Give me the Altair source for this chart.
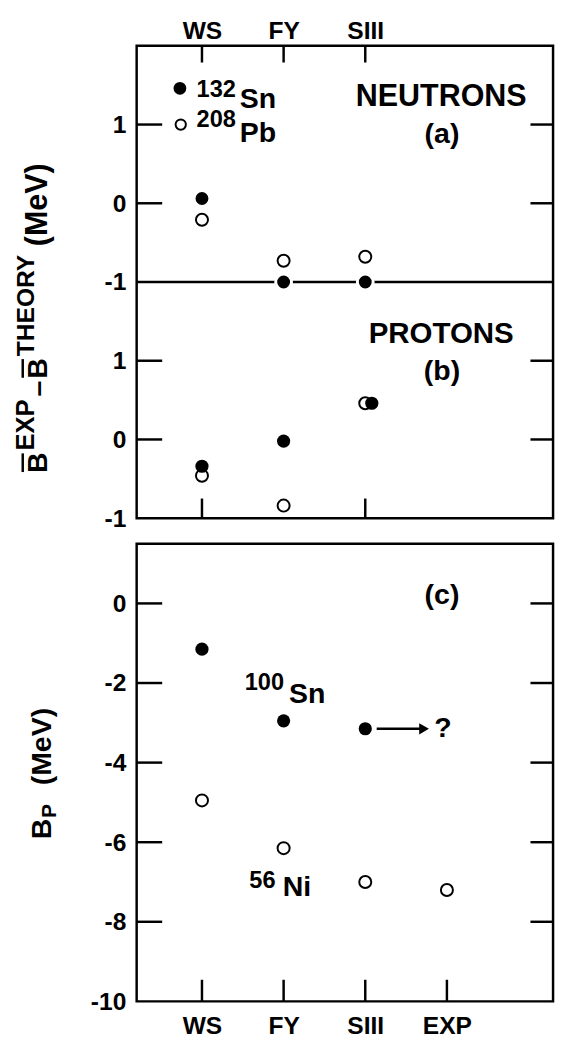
import json
import altair as alt
import pandas as pd

# ---------------- data ----------------
categories = ["WS", "FY", "SIII", "EXP"]

# (a) NEUTRONS  (WS, FY, SIII)
neutron_sn132 = [0.06, -1.00, -1.00]
neutron_pb208 = [-0.21, -0.73, -0.68]
# (b) PROTONS  (WS, FY, SIII)
proton_sn132 = [-0.34, -0.02, 0.46]
proton_pb208 = [-0.46, -0.84, 0.46]
proton_sn132_nudge = [0.0, 0.0, 0.08]   # SIII filled dot drawn just right of the open one
# (c) B_P  (WS, FY, SIII) and (WS, FY, SIII, EXP)
bp_sn100 = [-1.15, -2.95, -3.15]
bp_ni56 = [-4.95, -6.15, -7.00, -7.20]

ab_tick_values = [-1, 0, 1]
c_tick_values = [0, -2, -4, -6, -8, -10]

FONT = "Liberation Sans"
FW = "bold"
W = 424
H_AB = 481
H_C = 466
X_DOM = [0.2, 5.3]
A_SHIFT = 4   # panel (a) value v is drawn at u = v + 4
B_SHIFT = 1   # panel (b) value v is drawn at u = v + 1

xpos = {c: i + 1 for i, c in enumerate(categories)}
cat_js = json.dumps(categories)

# ---------------- shared encodings ----------------
x_scale = alt.Scale(domain=X_DOM, nice=False, zero=False)
u_scale = alt.Scale(domain=[0, 6], nice=False, zero=False)
c_scale = alt.Scale(domain=[-10, 1.5], nice=False, zero=False)

ab_u_vals = [v + B_SHIFT for v in ab_tick_values] + [v + A_SHIFT for v in ab_tick_values]

lab = dict(ticks=False, domain=False, grid=False, title=None, labelFontSize=25, labelFont=FONT,
           labelFontWeight=FW, labelColor="black")
x_axis_top = alt.Axis(orient="top", values=[1, 2, 3], labelExpr=f"{cat_js}[datum.value - 1]",
                      labelPadding=2, **lab)
y_axis_ab = alt.Axis(values=ab_u_vals,
                     labelExpr=f"'' + (datum.value < 3 ? datum.value - {B_SHIFT} : datum.value - {A_SHIFT})",
                     labelPadding=11, **lab)
x_axis_bottom = alt.Axis(orient="bottom", values=[1, 2, 3, 4], labelExpr=f"{cat_js}[datum.value - 1]",
                         labelPadding=13, **lab)
y_axis_c = alt.Axis(values=c_tick_values, labelExpr="'' + datum.value", labelPadding=11, **lab)

XAB = alt.X("x:Q", scale=x_scale, axis=x_axis_top)
YAB = alt.Y("u:Q", scale=u_scale, axis=y_axis_ab)
XC = alt.X("x:Q", scale=x_scale, axis=x_axis_bottom)
YC = alt.Y("v:Q", scale=c_scale, axis=y_axis_c)

# ---------------- panel (a)+(b) ----------------
a_filled = pd.DataFrame({"x": [xpos[c] for c in categories[:3]],
                         "u": [v + A_SHIFT for v in neutron_sn132]})
a_open = pd.DataFrame({"x": [xpos[c] for c in categories[:3]],
                       "u": [v + A_SHIFT for v in neutron_pb208]})
b_filled = pd.DataFrame({"x": [xpos[c] + d for c, d in zip(categories[:3], proton_sn132_nudge)],
                         "u": [v + B_SHIFT for v in proton_sn132]})
b_open = pd.DataFrame({"x": [xpos[c] for c in categories[:3]],
                       "u": [v + B_SHIFT for v in proton_pb208]})

def rule(df, **enc):
    return alt.Chart(df).mark_rule(color="black", strokeWidth=2.5).encode(**enc)

boundary = rule(pd.DataFrame({"u": [-1 + A_SHIFT]}), y=YAB, x=alt.value(0), x2=alt.value(W))
top_ticks = rule(pd.DataFrame({"x": [1, 2, 3]}), x=XAB, y=alt.value(0), y2=alt.value(17))
bot_ticks_ab = rule(pd.DataFrame({"x": [1, 3]}), x=XAB, y=alt.value(H_AB - 20), y2=alt.value(H_AB))
left_ticks_ab = rule(pd.DataFrame({"u": [1, 2, 4, 5]}), y=YAB, x=alt.value(0), x2=alt.value(26))
right_ticks_ab = rule(pd.DataFrame({"u": [1, 2, 4, 5]}), y=YAB, x=alt.value(W - 23), x2=alt.value(W))

pts_open_ab = alt.Chart(pd.concat([a_open, b_open])).mark_point(
    shape="circle", filled=False, color="black", strokeWidth=2, size=150, opacity=1).encode(x=XAB, y=YAB)
pts_fill_a = alt.Chart(a_filled).mark_point(
    shape="circle", filled=True, fill="black", stroke="white", strokeWidth=3, size=260, opacity=1).encode(x=XAB, y=YAB)
pts_fill_b = alt.Chart(b_filled).mark_point(
    shape="circle", filled=True, color="black", size=180, opacity=1).encode(x=XAB, y=YAB)

# legend symbols and labels (data coordinates)
leg_fill = alt.Chart(pd.DataFrame({"x": [0.73], "u": [5.46]})).mark_point(
    shape="circle", filled=True, color="black", size=170, opacity=1).encode(x=XAB, y=YAB)
leg_open = alt.Chart(pd.DataFrame({"x": [0.74], "u": [5.0]})).mark_point(
    shape="circle", filled=False, color="black", strokeWidth=2, size=110, opacity=1).encode(x=XAB, y=YAB)

def text_layer(df, enc_x, enc_y, size, align="left", baseline="alphabetic"):
    return alt.Chart(df).mark_text(font=FONT, fontWeight=FW, fontSize=size, align=align, baseline=baseline,
                                   color="black").encode(x=enc_x, y=enc_y, text="t:N")

sup_ab = text_layer(pd.DataFrame({"x": [0.934, 0.934], "u": [5.35, 4.975], "t": ["132", "208"]}), XAB, YAB, 24)
main_ab = text_layer(pd.DataFrame({"x": [1.463, 1.463], "u": [5.214, 4.778], "t": ["Sn", "Pb"]}), XAB, YAB, 29)
head_n = text_layer(pd.DataFrame({"x": [3.93], "u": [5.24], "t": ["NEUTRONS"]}), XAB, YAB, 31, align="center")
head_p = text_layer(pd.DataFrame({"x": [3.93], "u": [2.22], "t": ["PROTONS"]}), XAB, YAB, 30, align="center")
tags_ab = text_layer(pd.DataFrame({"x": [3.94, 3.94], "u": [4.76, 1.76], "t": ["(a)", "(b)"]}),
                     XAB, YAB, 29, align="center")

def rot_piece(text, size, px, py):
    return alt.Chart(pd.DataFrame({"k": [0]})).mark_text(
        text=text, angle=270, align="left", baseline="alphabetic", font=FONT, fontWeight=FW, fontSize=size,
        color="black").encode(x=alt.value(px), y=alt.value(py))

def bar_piece(px, y1, y2):
    return alt.Chart(pd.DataFrame({"k": [0]})).mark_rule(color="black", strokeWidth=2.5).encode(
        x=alt.value(px), y=alt.value(y1), y2=alt.value(y2))

title_ab = [
    rot_piece("B", 29, -91, 435), bar_piece(-116, 415, 434),
    rot_piece("EXP", 26, -105, 412),
    rot_piece("\u2013", 29, -91, 357),
    rot_piece("B", 29, -91, 339), bar_piece(-116, 319, 338),
    rot_piece("THEORY", 25, -105, 316),
    rot_piece("(MeV)", 31, -91, 204),
]

panel_ab = alt.layer(
    boundary, top_ticks, bot_ticks_ab, left_ticks_ab, right_ticks_ab,
    pts_open_ab, pts_fill_a, pts_fill_b, leg_fill, leg_open,
    sup_ab, main_ab, head_n, head_p, tags_ab, *title_ab
).properties(width=W, height=H_AB)

# ---------------- panel (c) ----------------
c_filled = pd.DataFrame({"x": [xpos[c] for c in categories[:3]], "v": bp_sn100})
c_open = pd.DataFrame({"x": [xpos[c] for c in categories], "v": bp_ni56})

left_ticks_c = rule(pd.DataFrame({"v": c_tick_values[:-1]}), y=YC, x=alt.value(0), x2=alt.value(26))
right_ticks_c = rule(pd.DataFrame({"v": c_tick_values[:-1]}), y=YC, x=alt.value(W - 23), x2=alt.value(W))
bot_ticks_c = rule(pd.DataFrame({"x": [1, 2, 3, 4]}), x=XC, y=alt.value(H_C - 22), y2=alt.value(H_C))

pts_fill_c = alt.Chart(c_filled).mark_point(
    shape="circle", filled=True, color="black", size=180, opacity=1).encode(x=XC, y=YC)
pts_open_c = alt.Chart(c_open).mark_point(
    shape="circle", filled=False, color="black", strokeWidth=2, size=150, opacity=1).encode(x=XC, y=YC)

arrow_line = alt.Chart(pd.DataFrame({"x": [3.14], "x2": [3.68], "v": [bp_sn100[2]]})).mark_rule(
    color="black", strokeWidth=2.5).encode(x=XC, x2="x2:Q", y=YC)
arrow_head = alt.Chart(pd.DataFrame({"x": [3.72], "v": [bp_sn100[2]]})).mark_point(
    shape="triangle-right", filled=True, color="black", size=130, opacity=1).encode(x=XC, y=YC)

sup_c = text_layer(pd.DataFrame({"x": [1.524, 1.58], "v": [-2.18, -7.14], "t": ["100", "56"]}), XC, YC, 24)
main_c = text_layer(pd.DataFrame({"x": [2.065, 1.99, 3.846], "v": [-2.5, -7.36, -3.36], "t": ["Sn", "Ni", "?"]}),
                    XC, YC, 29)
tag_c = text_layer(pd.DataFrame({"x": [3.94], "v": [-0.02], "t": ["(c)"]}), XC, YC, 29, align="center")

title_c = [
    rot_piece("B", 29, -87, 301),
    rot_piece("P", 21, -82, 279),
    rot_piece("(MeV)", 29, -87, 246),
]

panel_c = alt.layer(
    left_ticks_c, right_ticks_c, bot_ticks_c, arrow_line, arrow_head,
    pts_open_c, pts_fill_c, sup_c, main_c, tag_c, *title_c
).properties(width=W, height=H_C)

chart = alt.vconcat(panel_ab, panel_c, spacing=9).properties(
    padding={"left": 3, "top": 0, "right": 0, "bottom": 0}
).configure_view(stroke="black", strokeWidth=2.5)

chart.save("out.html", embed_options={"renderer": "svg", "actions": False})
